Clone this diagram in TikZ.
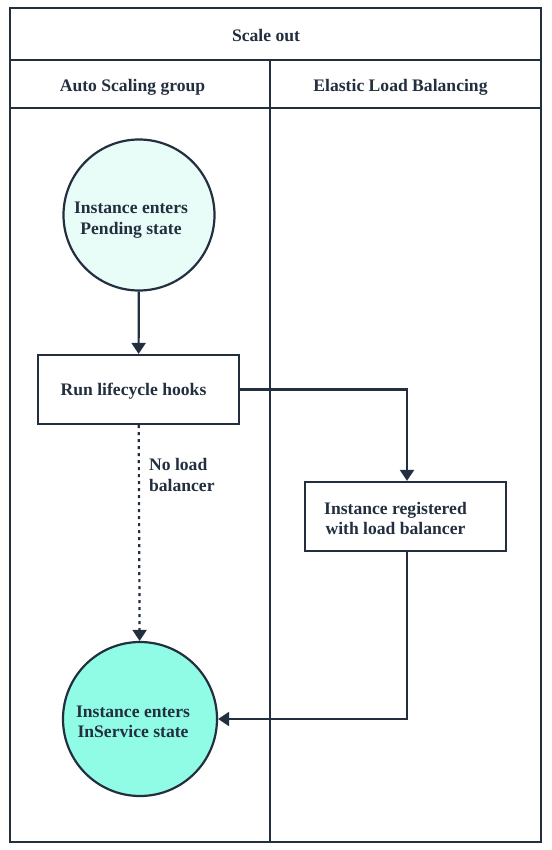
\documentclass[tikz,border=0pt]{standalone}
\usepackage{fontspec}
\setmainfont{Liberation Serif}
\usetikzlibrary{arrows.meta}
\definecolor{ink}{HTML}{232F3E}
\definecolor{pend}{HTML}{E8FCF8}
\definecolor{insvc}{HTML}{90FCE6}
\begin{document}
\begin{tikzpicture}[x=1pt,y=1pt,line width=2.2pt,ink,
  txt/.style={text=ink,font=\bfseries\fontsize{17.6}{20.5}\selectfont,align=center,inner sep=0pt},
  state/.style={circle,draw=ink,minimum size=151pt,inner sep=0pt},
  task/.style={rectangle,draw=ink,minimum width=201pt,minimum height=69pt,inner sep=0pt},
  flow/.style={-{Triangle[width=14pt,length=11pt]}}]
\useasboundingbox (0,0) rectangle (551,-850);
\def\lane{270}
% swimlane frame
\draw (10,-8) rectangle (541,-842);
\draw (10,-60) -- (541,-60);
\draw (10,-108) -- (541,-108);
\draw (\lane,-60) -- (\lane,-842);
\node[txt] (title) at (266,-35.5) {Scale out};
\node[txt] (asg) at (132.5,-87) {Auto Scaling group};
\node[txt] (elb) at (400.5,-87) {Elastic Load Balancing};
% steps
\node[state,fill=pend] (pending) at (139,-215) {};
\node[task] (hooks) at (138.5,-389.5) {};
\node[task] (reg) at (405.5,-516.5) {};
\node[state,fill=insvc,minimum size=154pt] (inservice) at (140,-719) {};
\node[txt,xshift=-8pt,yshift=-5pt] (pendingtxt) at (pending) {Instance enters\\Pending state};
\node[txt,xshift=-5pt,yshift=-2pt] (hookstxt) at (hooks) {Run lifecycle hooks};
\node[txt,xshift=-10pt,yshift=-2pt] (regtxt) at (reg) {Instance registered\\with load balancer};
\node[txt,xshift=-7pt,yshift=-3pt] (inservicetxt) at (inservice) {Instance enters\\InService state};
\coordinate (turnA) at (407,-389.5);
\coordinate (turnB) at (407,-719);
% connectors
\draw[flow] (pending) -- (hooks);
\draw[flow] (hooks.east) -- (turnA) -- (reg.north -| turnA);
\draw[flow,dash pattern=on 3pt off 4pt] (hooks) -- (inservice);
\draw[flow] (reg.south -| turnB) -- (turnB) -- (inservice.east);
\node[txt,align=left,anchor=base west] (nolb) at (148,-491) {No load\\balancer};
\end{tikzpicture}
\end{document}
